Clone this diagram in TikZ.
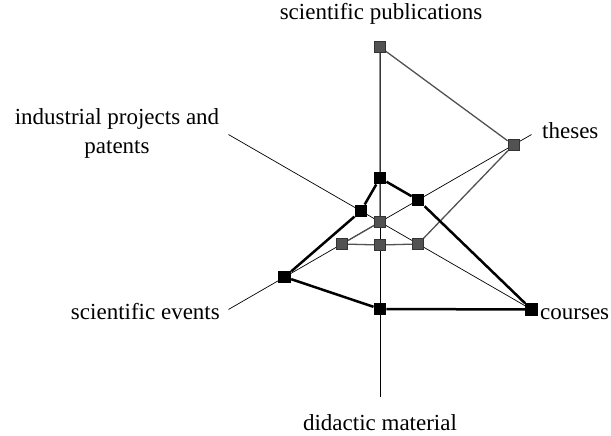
\documentclass[tikz,border=0pt]{standalone}
\usepackage{fontspec}
\setmainfont{Liberation Serif}
\usetikzlibrary{backgrounds}

\tikzset{
  axisline/.style={black, line width=0.7pt},
  serieA/.style={black!68, line width=1.3pt},
  serieB/.style={black, line width=2.5pt, line join=round},
  markA/.style={rectangle, draw=black!80, fill=black!68, minimum size=11pt, inner sep=0pt},
  markB/.style={rectangle, fill=black, minimum size=12.5pt, inner sep=0pt},
  lbl/.style={font=\fontsize{23}{29}\selectfont, align=center, inner sep=1pt}
}

\begin{document}
\begin{tikzpicture}[x=1pt,y=1pt]
  \useasboundingbox (-380,-214) rectangle (231,222);
  % axis ends
  \coordinate (o) at (0,0);
  \foreach \a/\n in {90/pub,30/thes,-30/crs,-90/did,-150/evt,150/ind}
    \coordinate (\n) at (\a:175);
  % grey series
  \foreach \a/\r/\n in {90/175/g1,30/154/g2,-30/44/g3,-90/23/g4,-150/44/g5,150/0/g6}
    \node[markA] (\n) at (\a:\r) {};
  % black series
  \foreach \a/\r/\n in {90/44/b1,30/44/b2,-30/175/b3,-90/87/b4,-150/110/b5,150/22/b6}
    \node[markB] (\n) at (\a:\r) {};
  % axes and polygons under the marks
  \begin{scope}[on background layer]
    \foreach \n in {pub,thes,crs,did,evt,ind} { \draw[axisline] (o) -- (\n); }
    \draw[serieA] (g1) -- (g2) -- (g3) -- (g4) -- (g5) -- (g6) -- (g1);
    \draw[serieB] (b1) -- (b2) -- (b3) -- (b4) -- (b5) -- (b6) -- (b1);
  \end{scope}
  % labels
  \node[lbl] (lpub) at (1,208) {scientific publications};
  \node[lbl, anchor=base west] (lthes) at (161,83) {theses};
  \node[lbl, anchor=base west] (lcrs) at (159,-98) {courses};
  \node[lbl] (ldid) at (0,-201) {didactic material};
  \node[lbl, anchor=base east] (levt) at (-159,-98) {scientific events};
  \node[lbl] (lind) at (-263,89) {industrial projects and\\patents};
\end{tikzpicture}
\end{document}
